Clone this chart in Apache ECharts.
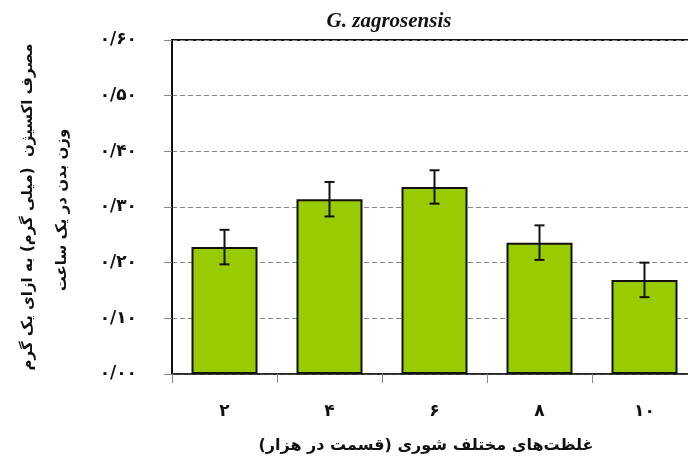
<!DOCTYPE html>
<html>
<head>
<meta charset="utf-8">
<script src="https://cdn.jsdelivr.net/npm/echarts@6/dist/echarts.min.js"></script>
<style>
  html, body { margin: 0; padding: 0; background: #fff; }
  #main { width: 688px; height: 459px; }
</style>
</head>
<body>
<div id="main"></div>
<script>
// salinity levels (ppt) and oxygen consumption
var categories = ['۲', '۴', '۶', '۸', '۱۰'];
var values = [0.228, 0.314, 0.336, 0.236, 0.169];
var errors = [0.031, 0.031, 0.030, 0.031, 0.031];
var yTickLabels = ['۰/۰۰', '۰/۱۰', '۰/۲۰', '۰/۳۰', '۰/۴۰', '۰/۵۰', '۰/۶۰'];

var titleText = 'G. zagrosensis';
var xName = '\u200Fغلظت‌های مختلف شوری (قسمت در هزار)\u200F';
var yName1 = '\u200Fمصرف اکسیژن  (میلی گرم) به ازای یک گرم\u200F';
var yName2 = '\u200Fوزن بدن در یک ساعت\u200F';

var faFont = '"DejaVu Sans", sans-serif';

var errData = values.map(function (v, i) {
  return [i, v - errors[i], v + errors[i]];
});

var myChart = echarts.init(document.getElementById('main'));

var option = {
  animation: false,
  backgroundColor: '#fff',
  grid: {
    left: 172,
    top: 40,
    right: -9,
    bottom: 85,
    outerBoundsMode: 'none',
    containLabel: false,
    show: true,
    borderColor: '#111',
    borderWidth: 2,
    backgroundColor: 'transparent'
  },
  graphic: [
    {
      type: 'text',
      x: 389, y: 22,
      style: {
        text: titleText,
        font: 'italic bold 21px "Liberation Serif", serif',
        fill: '#111',
        align: 'center',
        verticalAlign: 'middle'
      }
    },
    {
      type: 'text',
      x: 28, y: 207,
      rotation: Math.PI / 2,
      style: {
        text: yName1,
        font: 'bold 15px ' + faFont,
        fill: '#111',
        align: 'center',
        verticalAlign: 'middle'
      }
    },
    {
      type: 'text',
      x: 62, y: 210,
      rotation: Math.PI / 2,
      style: {
        text: yName2,
        font: 'bold 15px ' + faFont,
        fill: '#111',
        align: 'center',
        verticalAlign: 'middle'
      }
    },
    {
      type: 'text',
      x: 426, y: 446,
      style: {
        text: xName,
        font: 'bold 16px ' + faFont,
        fill: '#111',
        align: 'center',
        verticalAlign: 'middle'
      }
    }
  ],
  xAxis: {
    type: 'category',
    data: categories,
    axisLine: { show: true, lineStyle: { color: '#333', width: 1.5 } },
    axisTick: { show: true, length: 9, lineStyle: { color: '#888' } },
    axisLabel: {
      margin: 29,
      color: '#111',
      fontSize: 17,
      fontWeight: 'bold',
      fontFamily: faFont
    },
    splitLine: { show: false }
  },
  yAxis: {
    type: 'value',
    min: 0,
    max: 0.6,
    interval: 0.1,
    axisLine: { show: true, lineStyle: { color: '#111', width: 2 } },
    axisTick: { show: true, length: 8, lineStyle: { color: '#888' } },
    axisLabel: {
      margin: 35,
      color: '#111',
      fontSize: 17,
      fontWeight: 'bold',
      fontFamily: faFont,
      formatter: function (v) {
        return yTickLabels[Math.round(v * 10)];
      }
    },
    splitLine: {
      show: true,
      lineStyle: { color: '#888', type: [5, 3], width: 1 }
    }
  },
  series: [
    {
      type: 'bar',
      data: values,
      barWidth: 66,
      itemStyle: {
        color: '#99CC00',
        borderColor: '#111',
        borderWidth: 2
      },
      z: 2
    },
    {
      type: 'custom',
      data: errData,
      z: 3,
      renderItem: function (params, api) {
        var i = api.value(0);
        var lo = api.coord([i, api.value(1)]);
        var hi = api.coord([i, api.value(2)]);
        var cap = 5;
        var st = { stroke: '#111', lineWidth: 2 };
        return {
          type: 'group',
          children: [
            { type: 'line', shape: { x1: hi[0], y1: hi[1], x2: lo[0], y2: lo[1] }, style: st },
            { type: 'line', shape: { x1: hi[0] - cap, y1: hi[1], x2: hi[0] + cap, y2: hi[1] }, style: st },
            { type: 'line', shape: { x1: lo[0] - cap, y1: lo[1], x2: lo[0] + cap, y2: lo[1] }, style: st }
          ]
        };
      }
    }
  ]
};

myChart.setOption(option);
window.onresize = function () {
  myChart.resize();
};
</script>
</body>
</html>
